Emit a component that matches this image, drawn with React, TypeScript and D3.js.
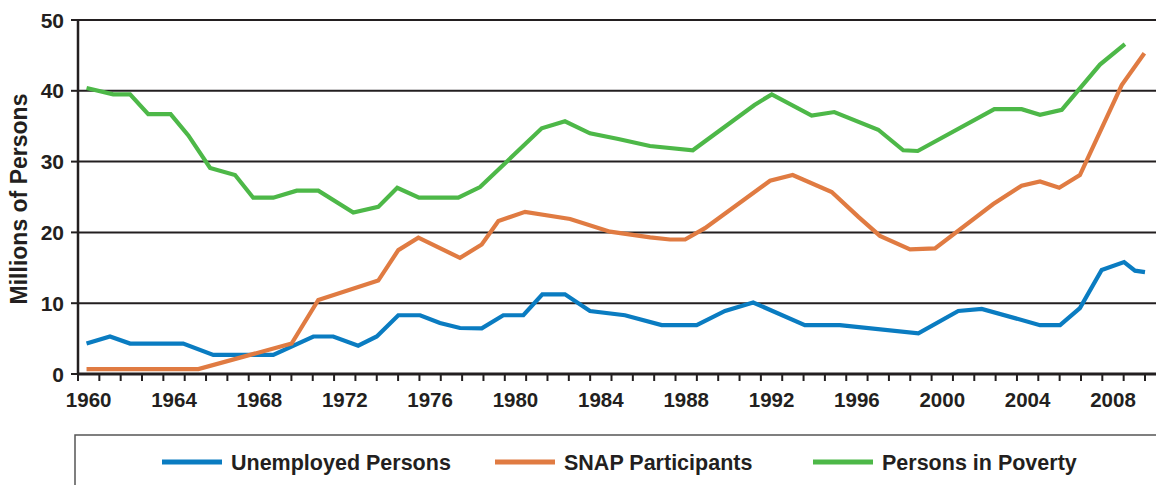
import React from "react";
import * as d3 from "d3";

// Tick labels
const yTicks = [0, 10, 20, 30, 40, 50];
const xLabelYears = [1960, 1964, 1968, 1972, 1976, 1980, 1984, 1988, 1992, 1996, 2000, 2004, 2008];
const firstYear = 1960;
const lastYear = 2010;

// Series (year positions, values in millions)
const unemployedYears = [1959.9, 1961.0, 1961.94, 1964.43, 1965.84, 1968.65, 1970.53, 1971.46, 1972.63, 1973.5, 1974.51, 1975.53, 1976.46, 1977.4, 1978.42, 1979.43, 1980.37, 1981.26, 1982.32, 1983.49, 1985.13, 1986.85, 1988.49, 1989.82, 1991.14, 1993.56, 1995.2, 1998.88, 2000.75, 2001.85, 2004.58, 2005.52, 2006.45, 2007.47, 2008.52, 2009.03, 2009.5];
const unemployedValues = [4.3, 5.3, 4.3, 4.3, 2.7, 2.7, 5.3, 5.3, 4.0, 5.3, 8.3, 8.3, 7.2, 6.5, 6.45, 8.3, 8.3, 11.25, 11.25, 8.9, 8.3, 6.9, 6.9, 8.9, 10.1, 6.9, 6.9, 5.75, 8.9, 9.2, 6.9, 6.9, 9.3, 14.7, 15.8, 14.6, 14.4];

const snapYears = [1959.9, 1965.14, 1969.51, 1970.76, 1973.57, 1974.51, 1975.45, 1977.4, 1978.42, 1979.2, 1980.45, 1982.56, 1984.43, 1986.31, 1987.24, 1987.95, 1988.88, 1991.93, 1992.99, 1994.82, 1996.07, 1997.08, 1998.49, 1999.66, 2002.39, 2003.72, 2004.58, 2005.48, 2006.45, 2008.41, 2009.47];
const snapValues = [0.7, 0.7, 4.3, 10.45, 13.2, 17.5, 19.25, 16.4, 18.3, 21.6, 22.9, 21.9, 20.1, 19.3, 19.0, 19.0, 20.6, 27.3, 28.1, 25.7, 22.2, 19.5, 17.6, 17.75, 24.0, 26.6, 27.2, 26.3, 28.1, 40.8, 45.3];

const povertyYears = [1959.9, 1961.15, 1961.94, 1962.79, 1963.84, 1964.67, 1965.69, 1966.86, 1967.71, 1968.65, 1969.75, 1970.76, 1972.4, 1973.57, 1974.46, 1975.48, 1977.32, 1978.34, 1981.23, 1982.32, 1983.49, 1984.82, 1986.3, 1988.31, 1991.2, 1992.01, 1993.88, 1994.94, 1997.0, 1998.17, 1998.85, 2002.44, 2003.72, 2004.58, 2005.6, 2007.39, 2008.56];
const povertyValues = [40.4, 39.5, 39.5, 36.7, 36.7, 33.7, 29.1, 28.1, 24.9, 24.9, 25.9, 25.9, 22.8, 23.6, 26.3, 24.9, 24.9, 26.4, 34.7, 35.7, 34.0, 33.2, 32.2, 31.6, 38.0, 39.5, 36.5, 37.0, 34.5, 31.6, 31.5, 37.4, 37.4, 36.6, 37.3, 43.7, 46.6];

const seriesNames = ["Unemployed Persons", "SNAP Participants", "Persons in Poverty"];
const seriesColors = ["#0a7cc1", "#e07b42", "#4db848"];

const W = 1156;
const H = 485;
const FONT = "'Liberation Sans', Arial, Helvetica, sans-serif";
const INK = "#231f20";

export default function App() {
  const x = d3
    .scaleLinear()
    .domain([firstYear - 0.5, lastYear + 0.5])
    .range([78, 78 + 51 * 21.34]);
  const y = d3.scaleLinear().domain([0, 50]).range([374, 20]);

  const line = d3
    .line<[number, number]>()
    .x((d) => x(d[0]))
    .y((d) => y(d[1]));

  const series = [
    unemployedYears.map((yr, i) => [yr, unemployedValues[i]] as [number, number]),
    snapYears.map((yr, i) => [yr, snapValues[i]] as [number, number]),
    povertyYears.map((yr, i) => [yr, povertyValues[i]] as [number, number]),
  ];

  const boundaries = d3.range(firstYear - 0.5, lastYear + 1, 1);

  const legendSwatchX = [162, 495, 813];

  return (
    <svg
      width={W}
      height={H}
      style={{ position: "absolute", left: 0, top: 0, background: "#fff" }}
      fontFamily={FONT}
    >
      <rect x={0} y={0} width={W} height={H} fill="#fff" />
      {/* gridlines */}
      {yTicks
        .filter((t) => t > 0)
        .map((t) => (
          <line key={"g" + t} x1={78} x2={W} y1={y(t)} y2={y(t)} stroke={INK} strokeWidth={2} />
        ))}
      {/* y axis */}
      <line x1={78} x2={78} y1={y(50) - 1} y2={y(0) + 1} stroke={INK} strokeWidth={2.5} />
      {yTicks.map((t) => (
        <g key={"yt" + t}>
          <line x1={71} x2={78} y1={y(t)} y2={y(t)} stroke={INK} strokeWidth={2} />
          <text
            x={64}
            y={y(t)}
            dy="0.36em"
            textAnchor="end"
            fontSize={21}
            fontWeight="bold"
            fill={INK}
          >
            {t}
          </text>
        </g>
      ))}
      {/* x axis */}
      <line x1={77} x2={W} y1={y(0)} y2={y(0)} stroke={INK} strokeWidth={3} />
      {boundaries.map((b) => (
        <line key={"xt" + b} x1={x(b)} x2={x(b)} y1={y(0)} y2={y(0) + 7} stroke={INK} strokeWidth={2} />
      ))}
      {xLabelYears.map((yr) => (
        <text
          key={"xl" + yr}
          x={x(yr)}
          y={407}
          textAnchor="middle"
          fontSize={20.5}
          fontWeight="bold"
          fill={INK}
        >
          {yr}
        </text>
      ))}
      {/* y title */}
      <text
        transform={`translate(27, ${y(25) + 2}) rotate(-90)`}
        textAnchor="middle"
        fontSize={23}
        fontWeight="bold"
        fill={INK}
      >
        Millions of Persons
      </text>
      {/* lines */}
      {series.map((s, i) => (
        <path
          key={"s" + i}
          d={line(s) || ""}
          fill="none"
          stroke={seriesColors[i]}
          strokeWidth={4.2}
          strokeLinejoin="miter"
        />
      ))}
      {/* legend */}
      <rect x={75} y={435} width={W} height={80} fill="none" stroke="#555" strokeWidth={1.5} />
      {seriesNames.map((n, i) => (
        <g key={"lg" + i}>
          <line
            x1={legendSwatchX[i]}
            x2={legendSwatchX[i] + 60}
            y1={462}
            y2={462}
            stroke={seriesColors[i]}
            strokeWidth={5}
          />
          <text
            x={legendSwatchX[i] + 69}
            y={469.5}
            fontSize={21.5}
            fontWeight="bold"
            fill={INK}
          >
            {n}
          </text>
        </g>
      ))}
    </svg>
  );
}
